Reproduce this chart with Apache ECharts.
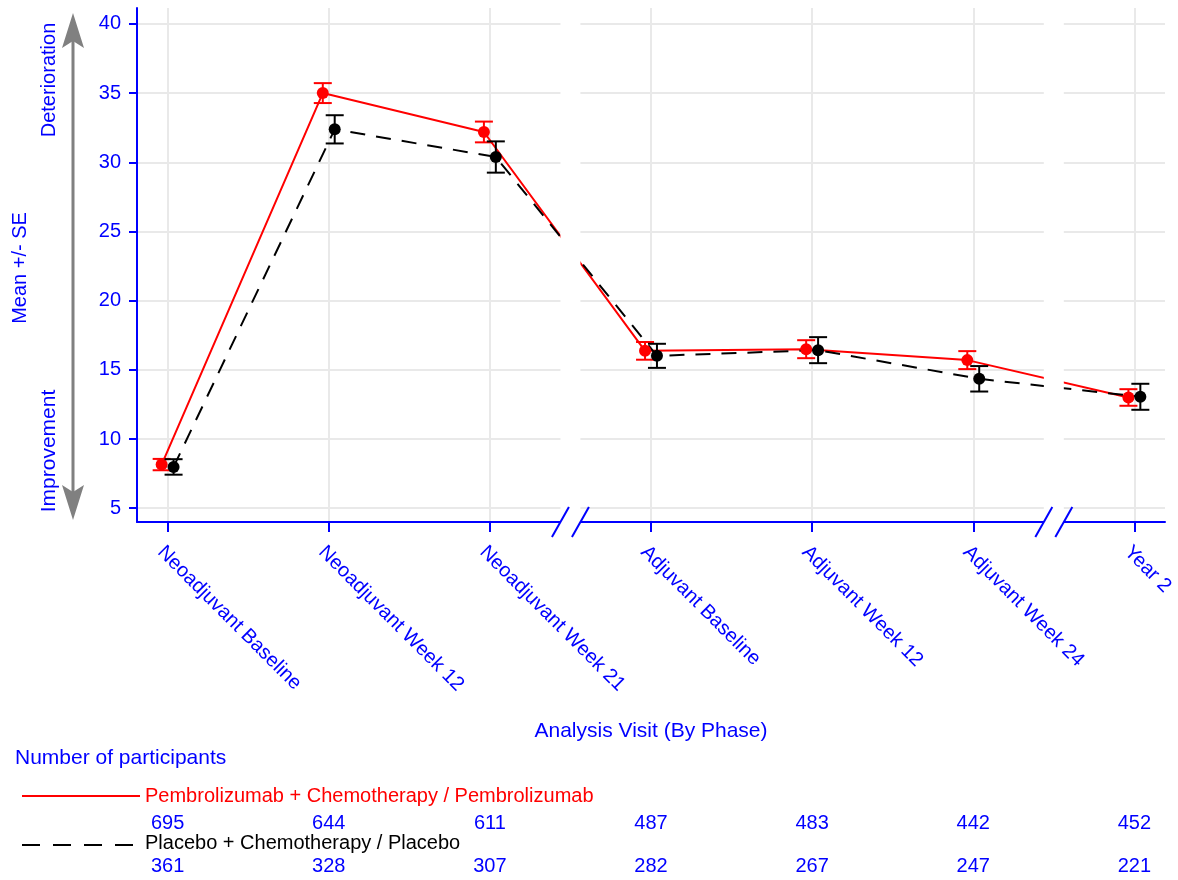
<!DOCTYPE html>
<html>
<head>
<meta charset="utf-8">
<script src="https://cdn.jsdelivr.net/npm/echarts@6/dist/echarts.min.js"></script>
<style>
  html, body { margin: 0; padding: 0; background: #ffffff; }
  #chart { width: 1178px; height: 880px; }
</style>
</head>
<body>
<div id="chart"></div>
<script>
// Visits, grouped by study phase
const visits = ['Neoadjuvant Baseline', 'Neoadjuvant Week 12', 'Neoadjuvant Week 21',
                'Adjuvant Baseline', 'Adjuvant Week 12', 'Adjuvant Week 24', 'Year 2'];

// Mean score and standard error per visit
const pembroMean  = [8.15, 35.0, 32.19, 16.37, 16.49, 15.70, 13.00];
const pembroSE    = [0.41, 0.72, 0.75, 0.64, 0.65, 0.65, 0.60];
const placeboMean = [7.98, 32.38, 30.38, 16.01, 16.42, 14.35, 13.05];
const placeboSE   = [0.56, 1.02, 1.13, 0.87, 0.94, 0.92, 0.94];

// Number of participants per visit
const pembroN  = [695, 644, 611, 487, 483, 442, 452];
const placeboN = [361, 328, 307, 282, 267, 247, 221];

const yTicks = [5, 10, 15, 20, 25, 30, 35, 40];
const visitTicks = [0, 1, 2, 3, 4, 5, 6];
const phaseBreaks = [2.5, 5.5];   // gaps between phases on the visit axis

const pembroName  = 'Pembrolizumab + Chemotherapy / Pembrolizumab';
const placeboName = 'Placebo + Chemotherapy / Placebo';

const BLUE = '#0000ff';
const RED = '#ff0000';
const BLACK = '#000000';
const GRID = '#e9e9e9';
const FONT = '"Liberation Sans", Arial, Helvetica, sans-serif';
const DODGE = 0.037;              // side-by-side shift of the two arms, in visit units

const chart = echarts.init(document.getElementById('chart'), null, { renderer: 'canvas' });

function armPoints(means, shift) {
  return means.map((m, i) => [i + shift, m]);
}
function armBars(means, ses, shift) {
  return means.map((m, i) => [i + shift, m - ses[i], m + ses[i]]);
}
function errorBarRenderer(color) {
  return function (params, api) {
    const lo = api.coord([api.value(0), api.value(1)]);
    const hi = api.coord([api.value(0), api.value(2)]);
    const half = 9;
    const st = { stroke: color, lineWidth: 2 };
    return {
      type: 'group',
      children: [
        { type: 'line', shape: { x1: lo[0], y1: lo[1], x2: hi[0], y2: hi[1] }, style: st },
        { type: 'line', shape: { x1: lo[0] - half, y1: lo[1], x2: lo[0] + half, y2: lo[1] }, style: st },
        { type: 'line', shape: { x1: hi[0] - half, y1: hi[1], x2: hi[0] + half, y2: hi[1] }, style: st }
      ]
    };
  };
}
function breakRenderer(params, api) {
  const cs = params.coordSys;
  const cx = api.coord([api.value(0), 10])[0];
  const axisY = cs.y + cs.height;
  const gap = 10;
  const slant = 8.5, rise = 15;
  const st = { stroke: BLUE, lineWidth: 2 };
  return {
    type: 'group',
    children: [
      { type: 'rect', shape: { x: cx - gap, y: cs.y - 2, width: gap * 2, height: cs.height + 4 },
        style: { fill: '#ffffff' } },
      { type: 'line', shape: { x1: cx - gap - slant, y1: axisY + rise, x2: cx - gap + slant, y2: axisY - rise }, style: st },
      { type: 'line', shape: { x1: cx + gap - slant, y1: axisY + rise, x2: cx + gap + slant, y2: axisY - rise }, style: st }
    ]
  };
}

function countAxis(counts, offset) {
  return {
    type: 'value', gridIndex: 0, position: 'bottom', offset: offset,
    min: -0.19, max: 6.19,
    axisLine: { show: false, onZero: false },
    axisTick: { show: false, customValues: visitTicks },
    splitLine: { show: false },
    axisLabel: {
      customValues: visitTicks, margin: 0, color: BLUE,
      fontSize: 20, fontFamily: FONT,
      formatter: v => String(counts[Math.round(v)])
    }
  };
}

const option = {
  backgroundColor: '#ffffff',
  animation: false,
  grid: { left: 137, right: 13, top: 8, bottom: 358, containLabel: false, outerBoundsMode: 'none' },
  xAxis: [
    {
      type: 'value', min: -0.19, max: 6.19,
      axisLine: { onZero: false, lineStyle: { color: BLUE, width: 2 } },
      axisTick: { customValues: visitTicks, length: 10, lineStyle: { color: BLUE, width: 2 } },
      splitLine: { show: true, lineStyle: { color: GRID, width: 2 } },
      axisLabel: {
        customValues: visitTicks, rotate: -45, margin: 20, verticalAlign: 'top',
        color: BLUE, fontSize: 20, fontFamily: FONT,
        formatter: v => visits[Math.round(v)]
      }
    },
    countAxis(pembroN, 291),
    countAxis(placeboN, 334)
  ],
  yAxis: {
    type: 'value', min: 4, max: 41.15,
    axisLine: { show: true, onZero: false, lineStyle: { color: BLUE, width: 2 } },
    axisTick: { show: true, customValues: yTicks, length: 8, lineStyle: { color: BLUE, width: 2 } },
    splitLine: { show: true, lineStyle: { color: GRID, width: 2 } },
    axisLabel: { customValues: yTicks, margin: 16, color: BLUE, fontSize: 20, fontFamily: FONT }
  },
  series: [
    {
      name: pembroName, type: 'line', z: 2, symbol: 'none',
      data: armPoints(pembroMean, -DODGE),
      lineStyle: { color: RED, width: 2 }
    },
    {
      name: placeboName, type: 'line', z: 2, symbol: 'none',
      data: armPoints(placeboMean, DODGE),
      lineStyle: { color: BLACK, width: 2, type: [15, 11] }
    },
    {
      type: 'custom', z: 3, clip: false, silent: true,
      data: phaseBreaks.map(b => [b]),
      renderItem: breakRenderer
    },
    {
      type: 'custom', z: 4, clip: false,
      data: armBars(pembroMean, pembroSE, -DODGE),
      renderItem: errorBarRenderer(RED)
    },
    {
      type: 'scatter', z: 5, symbol: 'circle', symbolSize: 12,
      data: armPoints(pembroMean, -DODGE),
      itemStyle: { color: RED, opacity: 1 }
    },
    {
      type: 'custom', z: 6, clip: false,
      data: armBars(placeboMean, placeboSE, DODGE),
      renderItem: errorBarRenderer(BLACK)
    },
    {
      type: 'scatter', z: 7, symbol: 'circle', symbolSize: 12,
      data: armPoints(placeboMean, DODGE),
      itemStyle: { color: BLACK, opacity: 1 }
    }
  ],
  graphic: [
    // direction arrow beside the value axis
    { type: 'line', shape: { x1: 73, y1: 30, x2: 73, y2: 503 }, style: { stroke: '#808080', lineWidth: 3 } },
    { type: 'polygon', shape: { points: [[73, 13], [84, 48], [73, 41], [62, 48]] }, style: { fill: '#808080' } },
    { type: 'polygon', shape: { points: [[73, 520], [84, 485], [73, 492], [62, 485]] }, style: { fill: '#808080' } },
    { type: 'text', x: 49, y: 80, rotation: Math.PI / 2,
      style: { text: 'Deterioration', fill: BLUE, font: '20px ' + FONT, align: 'center', verticalAlign: 'middle' } },
    { type: 'text', x: 49, y: 451, rotation: Math.PI / 2,
      style: { text: 'Improvement', fill: BLUE, font: '21px ' + FONT, align: 'center', verticalAlign: 'middle' } },
    { type: 'text', x: 20, y: 268, rotation: Math.PI / 2,
      style: { text: 'Mean +/- SE', fill: BLUE, font: '20px ' + FONT, align: 'center', verticalAlign: 'middle' } },
    // axis title
    { type: 'text', x: 651, y: 731,
      style: { text: 'Analysis Visit (By Phase)', fill: BLUE, font: '21px ' + FONT, align: 'center', verticalAlign: 'middle' } },
    // participant table header and arm keys
    { type: 'text', x: 15, y: 758,
      style: { text: 'Number of participants', fill: BLUE, font: '21px ' + FONT, align: 'left', verticalAlign: 'middle' } },
    { type: 'line', shape: { x1: 22, y1: 796, x2: 140, y2: 796 }, style: { stroke: RED, lineWidth: 2 } },
    { type: 'text', x: 145, y: 796,
      style: { text: pembroName, fill: RED, font: '20px ' + FONT, align: 'left', verticalAlign: 'middle' } },
    { type: 'line', shape: { x1: 22, y1: 845, x2: 133, y2: 845 }, style: { stroke: BLACK, lineWidth: 2, lineDash: [18, 13] } },
    { type: 'text', x: 145, y: 843,
      style: { text: placeboName, fill: BLACK, font: '20px ' + FONT, align: 'left', verticalAlign: 'middle' } }
  ]
};

chart.setOption(option);
</script>
</body>
</html>
